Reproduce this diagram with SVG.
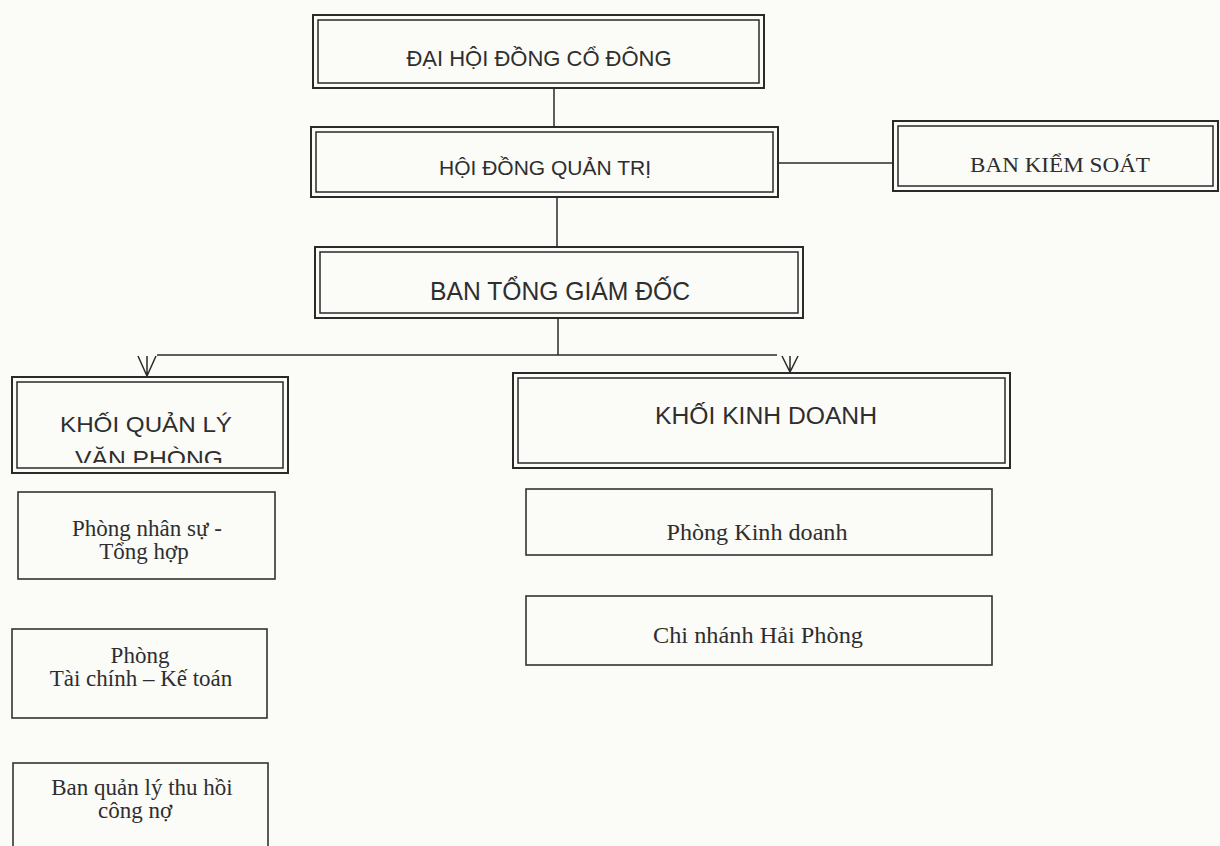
<svg xmlns="http://www.w3.org/2000/svg" width="1220" height="846" viewBox="0 0 1220 846">
<defs>
<style>
.bg{fill:#fbfbf8}
.o{fill:none;stroke:#2a2a2a;stroke-width:2}
.i{fill:none;stroke:#2a2a2a;stroke-width:1.5}
.s{fill:none;stroke:#333;stroke-width:1.6}
.ln{fill:none;stroke:#2a2a2a;stroke-width:1.5}
.sans{font-family:"Liberation Sans",Arial,sans-serif;fill:#2e2e2e;text-anchor:middle}
.serif{font-family:"Liberation Serif","Times New Roman",serif;fill:#2e2e2e;text-anchor:middle}
.sm{font-size:23px}
</style>
<clipPath id="clipKQL"><rect x="16" y="381" width="268" height="82"/></clipPath>
</defs>
<rect class="bg" x="0" y="0" width="1220" height="846"/>

<g id="connectors">
<line class="ln" x1="554" y1="88" x2="554" y2="127"/>
<line class="ln" x1="778" y1="163" x2="893" y2="163"/>
<line class="ln" x1="557" y1="197" x2="557" y2="247"/>
<line class="ln" x1="558" y1="318" x2="558" y2="355"/>
<line class="ln" x1="157" y1="355" x2="777" y2="355"/>
<path class="ln" d="M138 356 L147 376 L156 356 M147 356 L147 377"/>
<path class="ln" d="M782 356 L790 372 L798 356 M790 356 L790 373"/>
</g>

<g id="dai-hoi-dong-co-dong">
<rect class="o" x="313" y="15" width="451" height="73"/>
<rect class="i" x="318" y="20" width="441" height="63"/>
<text class="sans" x="539" y="66" font-size="22">ĐẠI HỘI ĐỒNG CỔ ĐÔNG</text>
</g>

<g id="hoi-dong-quan-tri">
<rect class="o" x="311" y="127" width="467" height="70"/>
<rect class="i" x="316" y="132" width="457" height="60"/>
<text class="sans" x="545" y="175" font-size="21">HỘI ĐỒNG QUẢN TRỊ</text>
</g>

<g id="ban-kiem-soat">
<rect class="o" x="893" y="121" width="325" height="70"/>
<rect class="i" x="898" y="126" width="315" height="60"/>
<text class="serif" x="1060" y="172" font-size="22" textLength="180" lengthAdjust="spacingAndGlyphs">BAN KIỂM SOÁT</text>
</g>

<g id="ban-tong-giam-doc">
<rect class="o" x="315" y="247" width="488" height="71"/>
<rect class="i" x="320" y="252" width="478" height="61"/>
<text class="sans" x="560" y="300" font-size="25" textLength="260" lengthAdjust="spacingAndGlyphs">BAN TỔNG GIÁM ĐỐC</text>
</g>

<g id="khoi-quan-ly-van-phong">
<rect class="o" x="12" y="377" width="276" height="96"/>
<rect class="i" x="17" y="382" width="266" height="86"/>
<g clip-path="url(#clipKQL)">
<text class="sans" x="146" y="432" font-size="22" textLength="172" lengthAdjust="spacingAndGlyphs">KHỐI QUẢN LÝ</text>
<text class="sans" x="149" y="466" font-size="22" textLength="148" lengthAdjust="spacingAndGlyphs">VĂN PHÒNG</text>
</g>
</g>

<g id="khoi-kinh-doanh">
<rect class="o" x="513" y="373" width="497" height="95"/>
<rect class="i" x="518" y="378" width="487" height="85"/>
<text class="sans" x="766" y="424" font-size="23" textLength="222" lengthAdjust="spacingAndGlyphs">KHỐI KINH DOANH</text>
</g>

<g id="phong-nhan-su">
<rect class="s" x="18" y="492" width="257" height="87"/>
<text class="serif sm" x="147" y="536">Phòng nhân sự -</text>
<text class="serif sm" x="144" y="559">Tổng hợp</text>
</g>

<g id="phong-tai-chinh">
<rect class="s" x="12" y="629" width="255" height="89"/>
<text class="serif sm" x="140" y="663">Phòng</text>
<text class="serif sm" x="141" y="686">Tài chính – Kế toán</text>
</g>

<g id="ban-quan-ly-thu-hoi">
<rect class="s" x="13" y="763" width="255" height="100"/>
<text class="serif sm" x="142" y="795">Ban quản lý thu hồi</text>
<text class="serif sm" x="135" y="818">công nợ</text>
</g>

<g id="phong-kinh-doanh">
<rect class="s" x="526" y="489" width="466" height="66"/>
<text class="serif" x="757" y="540" font-size="23" textLength="181" lengthAdjust="spacingAndGlyphs">Phòng Kinh doanh</text>
</g>

<g id="chi-nhanh-hai-phong">
<rect class="s" x="526" y="596" width="466" height="69"/>
<text class="serif" x="758" y="643" font-size="23" textLength="210" lengthAdjust="spacingAndGlyphs">Chi nhánh Hải Phòng</text>
</g>
</svg>
